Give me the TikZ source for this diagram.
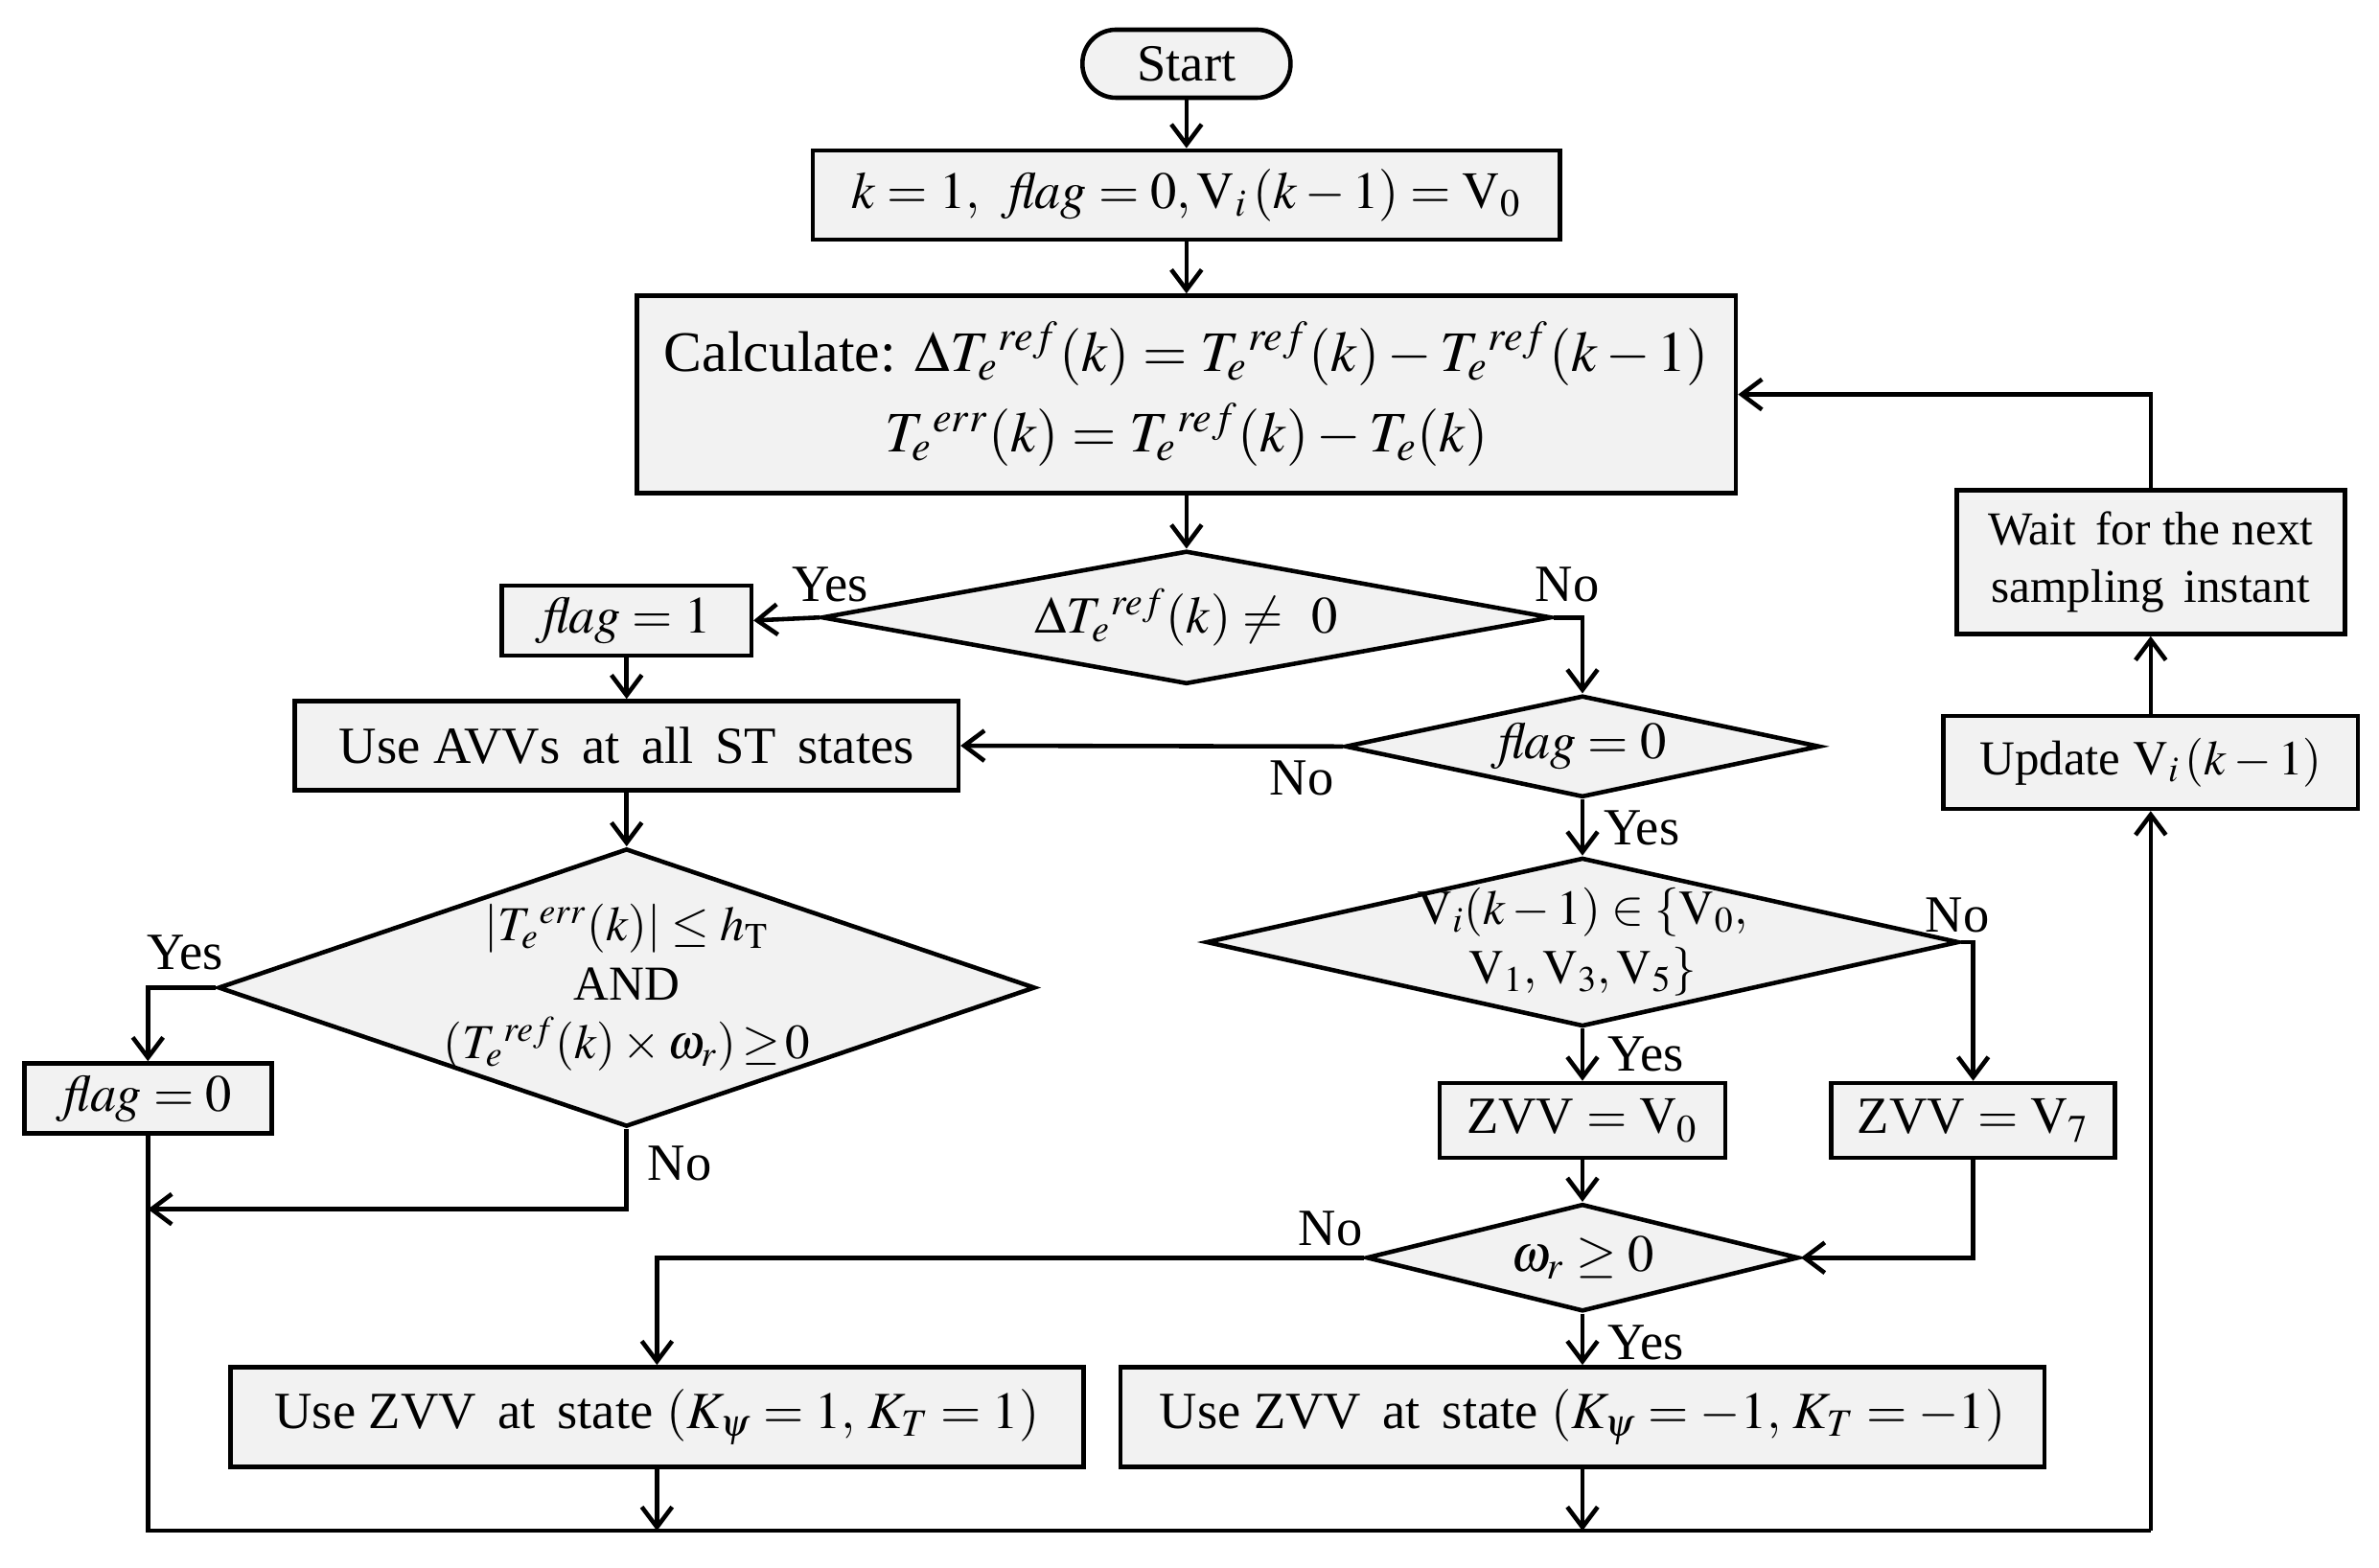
\documentclass[tikz,border=0pt]{standalone}
\usepackage{mathptmx}
\usepackage[no-math]{fontspec}
\setmainfont{Liberation Serif}
\usepackage{amsmath}
\usepackage{tikz}
\usetikzlibrary{shapes.geometric}
\usetikzlibrary{arrows.meta}
\usetikzlibrary{positioning}

\begin{document}
\begin{tikzpicture}[x=0.01583cm,y=-0.01583cm,
    font=\fontsize{15.5}{17.5}\selectfont,
    box/.style={draw,line width=1.3pt,fill=black!5,rectangle,inner sep=0pt,align=center},
    dec/.style={draw,line width=1.3pt,fill=black!5,diamond,inner sep=0pt,align=center},
    arr/.style={line width=1.3pt,-{Straight Barb[length=6pt,width=9pt,line width=1.3pt]}},
    lnk/.style={line width=1.3pt},
    tag/.style={inner sep=1pt}]
        \useasboundingbox (0,0) rectangle (1568,1033);
        % main column
        \node[box,rounded corners=0.35cm,minimum width=2.17cm,minimum height=0.71cm] (start) at (782,42) {Start};
        \node[box,minimum width=7.79cm,minimum height=0.93cm] (init) at (782,128.5)
          {$k = 1,\;\; \mathit{flag} = 0, \mathrm{V}_i\,(k - 1) = \mathrm{V}_0$};
        \node[box,minimum width=11.46cm,minimum height=2.06cm,font=\fontsize{17}{20}\selectfont] (calc) at (782,260)
          {Calculate: $\Delta T_e{}^{ref}(k) = T_e{}^{ref}(k) - T_e{}^{ref}(k-1)$\\[4pt]
           $T_e{}^{err}(k) = T_e{}^{ref}(k) - T_e(k)$};
        \node[dec,minimum width=7.61cm,minimum height=1.39cm,aspect=5.5] (dT) at (782,407)
          {$\Delta T_e{}^{ref}(k) \neq\;\, 0$};
        % left branch
        \node[box,minimum width=2.60cm,minimum height=0.73cm] (flagone) at (413,409) {$\mathit{flag} = 1$};
        \node[box,minimum width=6.92cm,minimum height=0.93cm] (avv) at (413,491.5)
          {Use AVVs\, at\, all\, ST\, states};
        \node[dec,minimum width=8.52cm,minimum height=2.90cm,aspect=2.94,inner sep=-12pt,
              font=\fontsize{14.5}{17.5}\selectfont] (cond) at (413,651)
          {$|T_e{}^{err}(k)| \le h_\mathrm{T}$\\AND\\$(T_e{}^{ref}(k)\times\omega_r)\!\ge\!0$};
        \node[box,minimum width=2.58cm,minimum height=0.73cm] (flagz) at (97.5,724) {$\mathit{flag} = 0$};
        % right branch
        \node[dec,minimum width=4.95cm,minimum height=1.06cm,aspect=4.7] (flagzero) at (1043,492) {$\mathit{flag} = 0$};
        \node[dec,minimum width=7.85cm,minimum height=1.76cm,aspect=4.4,inner sep=-12pt,
              font=\fontsize{14.5}{17.5}\selectfont] (vset) at (1043,621)
          {$\mathrm{V}_i(k-1) \in \{\mathrm{V}_0,$\\$\mathrm{V}_1, \mathrm{V}_3, \mathrm{V}_5\}$};
        \node[box,minimum width=2.98cm,minimum height=0.78cm] (zvvA) at (1043,738.5) {ZVV $= \mathrm{V}_0$};
        \node[box,minimum width=2.96cm,minimum height=0.78cm] (zvvB) at (1300.5,738.5) {ZVV $= \mathrm{V}_7$};
        \node[dec,minimum width=4.51cm,minimum height=1.12cm,aspect=4] (wr) at (1043,829) {$\omega_r \ge 0$};
        \node[box,minimum width=8.90cm,minimum height=1.04cm] (useA) at (433,934)
          {Use ZVV\, at\, state $(K_\psi = 1,\, K_T = 1)$};
        \node[box,minimum width=9.64cm,minimum height=1.04cm] (useB) at (1043,934)
          {Use ZVV\, at\, state $(K_\psi = -1,\, K_T = -1)$};
        % loop back
        \node[box,minimum width=4.32cm,minimum height=0.97cm,font=\fontsize{14.5}{17}\selectfont] (update) at (1417.5,502.5)
          {Update $\mathrm{V}_i\,(k - 1)$};
        \node[box,minimum width=4.05cm,minimum height=1.50cm,font=\fontsize{14}{17}\selectfont] (wait) at (1417.5,370.5)
          {Wait\, for the next\\sampling\, instant};
        \coordinate (bl) at (97.5,1009);
        \coordinate (br) at (1417.5,1009);
        \coordinate (j1) at (97.5,797);
        % connectors
        \draw[arr] (start) -- (init);
        \draw[arr] (init) -- (calc);
        \draw[arr] (calc) -- (dT);
        \draw[arr] (dT.west) -- (flagone.east);
        \draw[arr] (dT.east) -| (flagzero.north);
        \draw[arr] (flagone) -- (avv);
        \draw[arr] (flagzero.west) -- (avv.east);
        \draw[arr] (flagzero) -- (vset);
        \draw[arr] (avv) -- (cond);
        \draw[arr] (cond.west) -| (flagz.north);
        \draw[arr] (cond.south) |- (j1);
        \draw[arr] (vset) -- (zvvA);
        \draw[arr] (vset.east) -| (zvvB.north);
        \draw[arr] (zvvA) -- (wr);
        \draw[arr] (zvvB.south) |- (wr.east);
        \draw[arr] (wr.west) -| (useA.north);
        \draw[arr] (wr) -- (useB);
        \draw[arr] (useA.south) -- (useA.south |- bl);
        \draw[arr] (useB.south) -- (useB.south |- bl);
        \draw[lnk] (flagz.south) -- (bl) -- (br);
        \draw[arr] (br) -- (update.south);
        \draw[arr] (update) -- (wait);
        \draw[arr] (wait.north) |- (calc.east);
        % branch labels
        \node[tag] (y1) at (547,385) {Yes};
        \node[tag] (n1) at (1033,385) {No};
        \node[tag] (n2) at (858,513) {No};
        \node[tag] (y2) at (1082,546) {Yes};
        \node[tag] (y3) at (122,628) {Yes};
        \node[tag] (n3) at (448,767) {No};
        \node[tag] (n4) at (1290,603) {No};
        \node[tag] (y4) at (1085,695) {Yes};
        \node[tag] (n5) at (877,810) {No};
        \node[tag] (y5) at (1085,885) {Yes};
      \end{tikzpicture}
\end{document}
